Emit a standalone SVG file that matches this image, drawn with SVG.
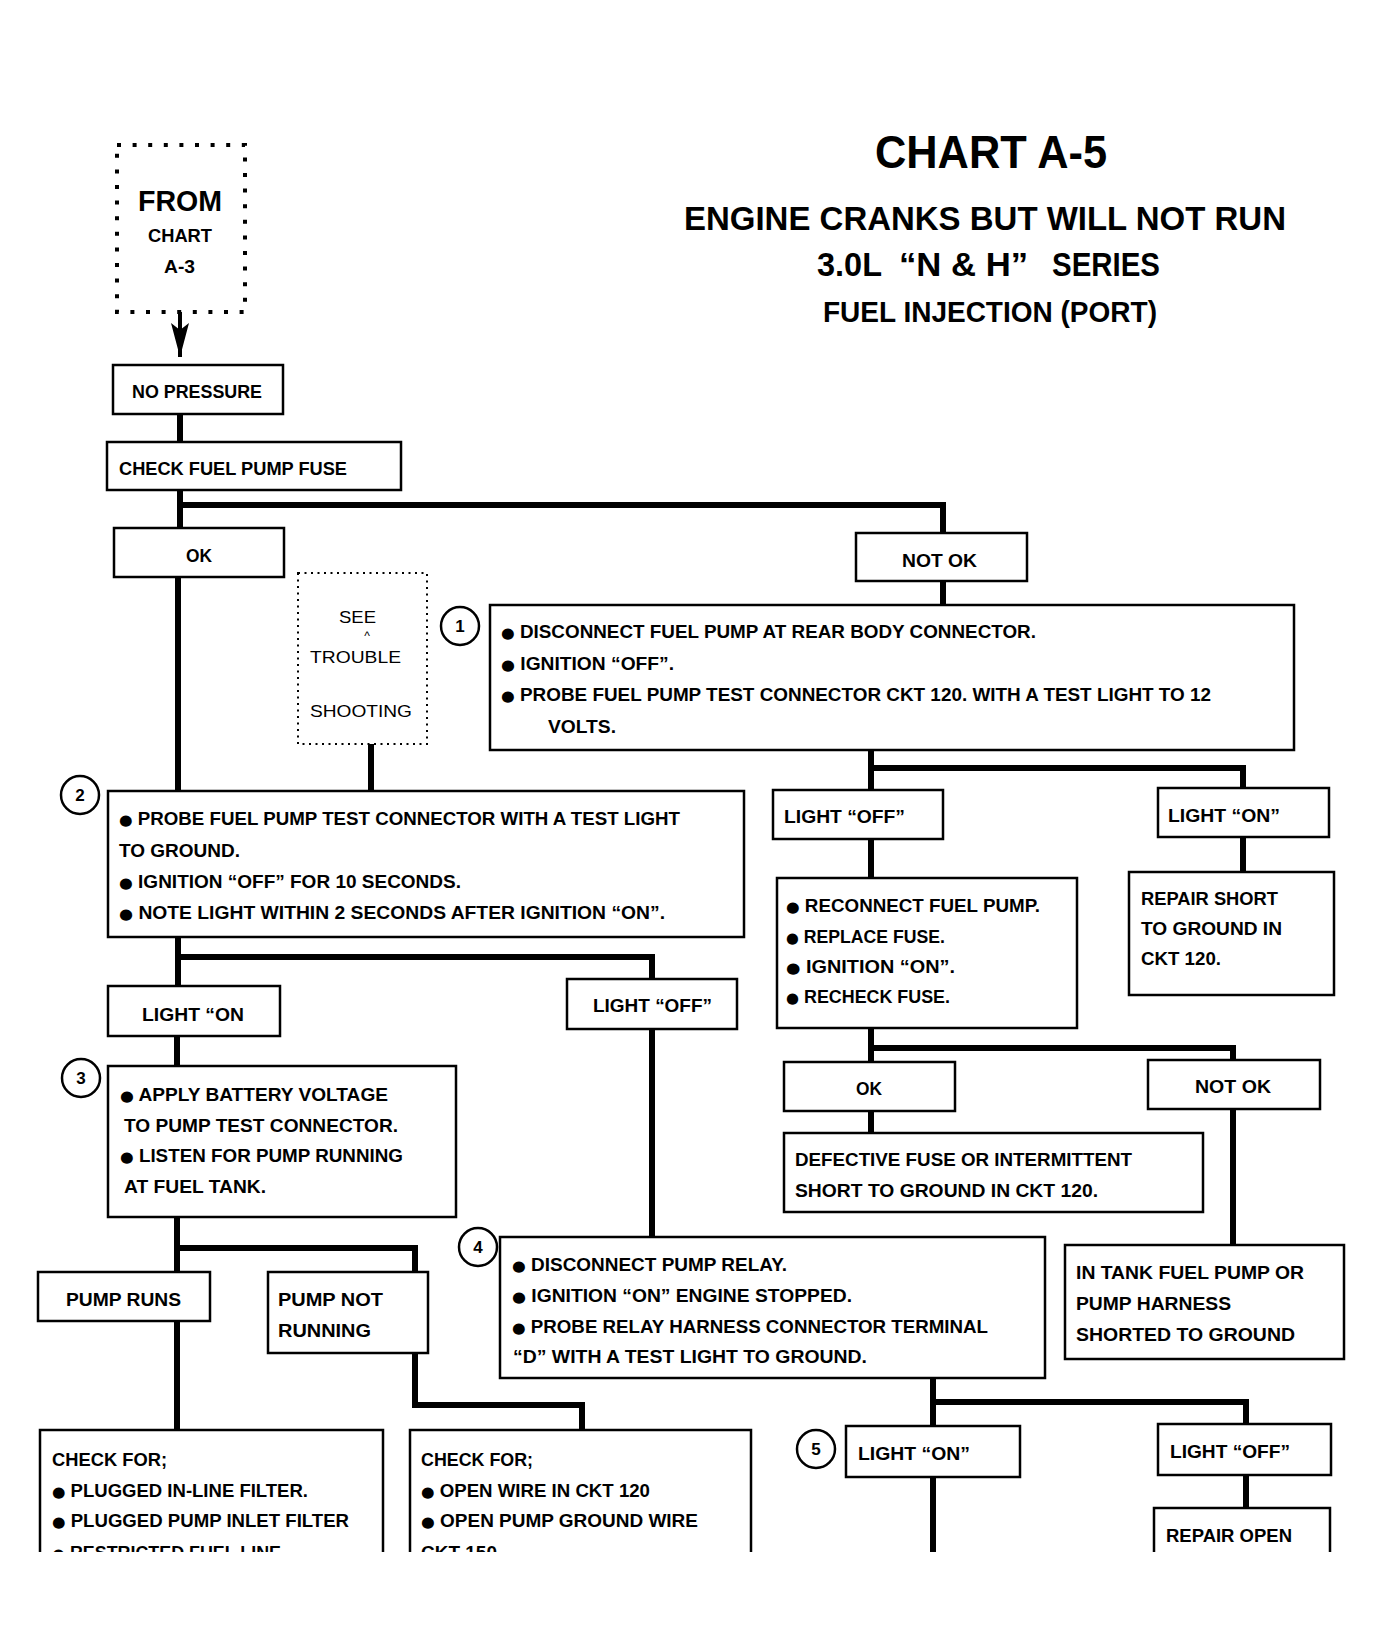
<svg xmlns="http://www.w3.org/2000/svg" width="1382" height="1627" viewBox="0 0 1382 1627">
<style>
.bx{fill:#fff;stroke:#000;stroke-width:2.5}
.dotbig{fill:none;stroke:#000;stroke-width:4;stroke-dasharray:4 11.6}
.dotsm{fill:none;stroke:#000;stroke-width:2;stroke-dasharray:2 4.5}
.cn{fill:none;stroke:#000;stroke-width:6}
.ar{fill:none;stroke:#000;stroke-width:4}
.circ{fill:#fff;stroke:#000;stroke-width:2.5}
text{font-family:"Liberation Sans",Arial,sans-serif;font-weight:bold;font-size:18px;fill:#000}
.c{text-anchor:middle}
.r{font-weight:normal;font-size:17px}
.num{font-size:17px;text-anchor:middle}
.b{font-family:"DejaVu Sans",sans-serif;font-size:15px}
.ttl{font-size:46px}
.sub{font-size:34px}
.sub2{font-size:29px}
</style>
<defs>
<marker id="ah" viewBox="0 0 34 20" refX="34" refY="10" markerWidth="34" markerHeight="20" markerUnits="userSpaceOnUse" orient="auto">
<path d="M0 1 L7 10 L0 19 L34 10 Z" fill="#000"/>
</marker>
<clipPath id="page"><rect x="0" y="0" width="1382" height="1552"/></clipPath>
</defs>
<rect x="0" y="0" width="1382" height="1627" fill="#fff"/>
<g clip-path="url(#page)">
<g id="title">
<text x="875" y="168" class="ttl" textLength="232" lengthAdjust="spacingAndGlyphs">CHART A-5</text>
<text x="684" y="230" class="sub" textLength="602" lengthAdjust="spacingAndGlyphs">ENGINE CRANKS BUT WILL NOT RUN</text>
<text x="817" y="276" class="sub" textLength="65" lengthAdjust="spacingAndGlyphs">3.0L</text>
<text x="899" y="276" class="sub" textLength="129" lengthAdjust="spacingAndGlyphs">“N &amp; H”</text>
<text x="1052" y="276" class="sub" textLength="108" lengthAdjust="spacingAndGlyphs">SERIES</text>
<text x="823" y="322" class="sub2" textLength="334" lengthAdjust="spacingAndGlyphs">FUEL INJECTION (PORT)</text>
</g>
<g id="connectors">
<path class="ar" d="M180 312 V357" marker-end="url(#ah)"/>
<path class="cn" d="M180 414 V442"/>
<path class="cn" d="M180 490 V528"/>
<path class="cn" d="M180 505 H943 V533"/>
<path class="cn" d="M943 581 V605"/>
<path class="cn" d="M178 577 V791"/>
<path class="cn" d="M371 744 V791"/>
<path class="cn" d="M178 937 V986"/>
<path class="cn" d="M178 957 H652 V979"/>
<path class="cn" d="M652 1029 V1237"/>
<path class="cn" d="M177 1036 V1066"/>
<path class="cn" d="M177 1217 V1272"/>
<path class="cn" d="M177 1248 H415 V1272"/>
<path class="cn" d="M177 1321 V1430"/>
<path class="cn" d="M415 1353 V1405 H582 V1430"/>
<path class="cn" d="M871 750 V790"/>
<path class="cn" d="M871 768 H1243 V788"/>
<path class="cn" d="M871 839 V878"/>
<path class="cn" d="M1243 837 V872"/>
<path class="cn" d="M871 1028 V1062"/>
<path class="cn" d="M871 1048 H1233 V1060"/>
<path class="cn" d="M871 1111 V1133"/>
<path class="cn" d="M1233 1109 V1245"/>
<path class="cn" d="M933 1378 V1426"/>
<path class="cn" d="M933 1402 H1246 V1424"/>
<path class="cn" d="M1246 1475 V1508"/>
<path class="cn" d="M933 1477 V1560"/>
</g>
<g id="from">
<rect class="dotbig" x="117" y="145" width="128" height="167"/>
<text x="138" y="211" style="font-size:29px" textLength="84" lengthAdjust="spacingAndGlyphs">FROM</text>
<text x="148" y="242" style="font-size:19px" textLength="64" lengthAdjust="spacingAndGlyphs">CHART</text>
<text x="164" y="273" style="font-size:19px" textLength="31" lengthAdjust="spacingAndGlyphs">A-3</text>
</g>
<g id="no-pressure">
<rect class="bx" x="113" y="365" width="170" height="49"/>
<text x="132" y="398" textLength="130" lengthAdjust="spacingAndGlyphs">NO PRESSURE</text>
</g>
<g id="check-fuse">
<rect class="bx" x="107" y="442" width="294" height="48"/>
<text x="119" y="475" textLength="228" lengthAdjust="spacingAndGlyphs">CHECK FUEL PUMP FUSE</text>
</g>
<g id="ok-1">
<rect class="bx" x="114" y="528" width="170" height="49"/>
<text x="186" y="562" textLength="26" lengthAdjust="spacingAndGlyphs">OK</text>
</g>
<g id="not-ok-1">
<rect class="bx" x="856" y="533" width="171" height="48"/>
<text x="902" y="567" textLength="75" lengthAdjust="spacingAndGlyphs">NOT OK</text>
</g>
<g id="see-troubleshooting">
<rect class="dotsm" x="298" y="573" width="129" height="171"/>
<text x="339" y="623" class="r" textLength="37" lengthAdjust="spacingAndGlyphs">SEE</text>
<text x="367" y="640" class="r c" style="font-size:12px">^</text>
<text x="310" y="663" class="r" textLength="91" lengthAdjust="spacingAndGlyphs">TROUBLE</text>
<text x="310" y="717" class="r" textLength="102" lengthAdjust="spacingAndGlyphs">SHOOTING</text>
</g>
<g id="step-1">
<circle class="circ" cx="460" cy="626" r="19"/>
<text x="460" y="632" class="num">1</text>
<rect class="bx" x="490" y="605" width="804" height="145"/>
<text x="501" y="638" textLength="535" lengthAdjust="spacingAndGlyphs"><tspan class="b">●</tspan> DISCONNECT FUEL PUMP AT REAR BODY CONNECTOR.</text>
<text x="501" y="670" textLength="173" lengthAdjust="spacingAndGlyphs"><tspan class="b">●</tspan> IGNITION “OFF”.</text>
<text x="501" y="701" textLength="710" lengthAdjust="spacingAndGlyphs"><tspan class="b">●</tspan> PROBE FUEL PUMP TEST CONNECTOR CKT 120. WITH A TEST LIGHT TO 12</text>
<text x="548" y="733" textLength="68" lengthAdjust="spacingAndGlyphs">VOLTS.</text>
</g>
<g id="step-2">
<circle class="circ" cx="80" cy="795" r="19"/>
<text x="80" y="801" class="num">2</text>
<rect class="bx" x="108" y="791" width="636" height="146"/>
<text x="119" y="825" textLength="561" lengthAdjust="spacingAndGlyphs"><tspan class="b">●</tspan> PROBE FUEL PUMP TEST CONNECTOR WITH A TEST LIGHT</text>
<text x="119" y="857" textLength="121" lengthAdjust="spacingAndGlyphs">TO GROUND.</text>
<text x="119" y="888" textLength="342" lengthAdjust="spacingAndGlyphs"><tspan class="b">●</tspan> IGNITION “OFF” FOR 10 SECONDS.</text>
<text x="119" y="919" textLength="546" lengthAdjust="spacingAndGlyphs"><tspan class="b">●</tspan> NOTE LIGHT WITHIN 2 SECONDS AFTER IGNITION “ON”.</text>
</g>
<g id="light-on-2">
<rect class="bx" x="108" y="986" width="172" height="50"/>
<text x="142" y="1021" textLength="102" lengthAdjust="spacingAndGlyphs">LIGHT “ON</text>
</g>
<g id="light-off-2">
<rect class="bx" x="567" y="979" width="170" height="50"/>
<text x="593" y="1012" textLength="119" lengthAdjust="spacingAndGlyphs">LIGHT “OFF”</text>
</g>
<g id="step-3">
<circle class="circ" cx="81" cy="1078" r="19"/>
<text x="81" y="1084" class="num">3</text>
<rect class="bx" x="108" y="1066" width="348" height="151"/>
<text x="120" y="1101" textLength="268" lengthAdjust="spacingAndGlyphs"><tspan class="b">●</tspan> APPLY BATTERY VOLTAGE</text>
<text x="124" y="1132" textLength="274" lengthAdjust="spacingAndGlyphs">TO PUMP TEST CONNECTOR.</text>
<text x="120" y="1162" textLength="283" lengthAdjust="spacingAndGlyphs"><tspan class="b">●</tspan> LISTEN FOR PUMP RUNNING</text>
<text x="124" y="1193" textLength="142" lengthAdjust="spacingAndGlyphs">AT FUEL TANK.</text>
</g>
<g id="pump-runs">
<rect class="bx" x="38" y="1272" width="172" height="49"/>
<text x="66" y="1306" textLength="115" lengthAdjust="spacingAndGlyphs">PUMP RUNS</text>
</g>
<g id="pump-not-running">
<rect class="bx" x="268" y="1272" width="160" height="81"/>
<text x="278" y="1306" textLength="105" lengthAdjust="spacingAndGlyphs">PUMP NOT</text>
<text x="278" y="1337" textLength="93" lengthAdjust="spacingAndGlyphs">RUNNING</text>
</g>
<g id="check-for-1">
<rect class="bx" x="40" y="1430" width="343" height="200"/>
<text x="52" y="1466" textLength="115" lengthAdjust="spacingAndGlyphs">CHECK FOR;</text>
<text x="52" y="1497" textLength="256" lengthAdjust="spacingAndGlyphs"><tspan class="b">●</tspan> PLUGGED IN-LINE FILTER.</text>
<text x="52" y="1527" textLength="297" lengthAdjust="spacingAndGlyphs"><tspan class="b">●</tspan> PLUGGED PUMP INLET FILTER</text>
<text x="52" y="1559" textLength="229" lengthAdjust="spacingAndGlyphs"><tspan class="b">●</tspan> RESTRICTED FUEL LINE</text>
</g>
<g id="check-for-2">
<rect class="bx" x="410" y="1430" width="341" height="200"/>
<text x="421" y="1466" textLength="112" lengthAdjust="spacingAndGlyphs">CHECK FOR;</text>
<text x="421" y="1497" textLength="229" lengthAdjust="spacingAndGlyphs"><tspan class="b">●</tspan> OPEN WIRE IN CKT 120</text>
<text x="421" y="1527" textLength="277" lengthAdjust="spacingAndGlyphs"><tspan class="b">●</tspan> OPEN PUMP GROUND WIRE</text>
<text x="421" y="1559" textLength="76" lengthAdjust="spacingAndGlyphs">CKT 150</text>
</g>
<g id="step-4">
<circle class="circ" cx="478" cy="1247" r="19"/>
<text x="478" y="1253" class="num">4</text>
<rect class="bx" x="500" y="1237" width="545" height="141"/>
<text x="512" y="1271" textLength="275" lengthAdjust="spacingAndGlyphs"><tspan class="b">●</tspan> DISCONNECT PUMP RELAY.</text>
<text x="512" y="1302" textLength="340" lengthAdjust="spacingAndGlyphs"><tspan class="b">●</tspan> IGNITION “ON” ENGINE STOPPED.</text>
<text x="512" y="1333" textLength="476" lengthAdjust="spacingAndGlyphs"><tspan class="b">●</tspan> PROBE RELAY HARNESS CONNECTOR TERMINAL</text>
<text x="513" y="1363" textLength="354" lengthAdjust="spacingAndGlyphs">“D” WITH A TEST LIGHT TO GROUND.</text>
</g>
<g id="light-off-1">
<rect class="bx" x="773" y="790" width="170" height="49"/>
<text x="784" y="823" textLength="121" lengthAdjust="spacingAndGlyphs">LIGHT “OFF”</text>
</g>
<g id="light-on-1">
<rect class="bx" x="1158" y="788" width="171" height="49"/>
<text x="1168" y="822" textLength="112" lengthAdjust="spacingAndGlyphs">LIGHT “ON”</text>
</g>
<g id="reconnect">
<rect class="bx" x="777" y="878" width="300" height="150"/>
<text x="786" y="912" textLength="254" lengthAdjust="spacingAndGlyphs"><tspan class="b">●</tspan> RECONNECT FUEL PUMP.</text>
<text x="786" y="943" textLength="159" lengthAdjust="spacingAndGlyphs"><tspan class="b">●</tspan> REPLACE FUSE.</text>
<text x="786" y="973" textLength="169" lengthAdjust="spacingAndGlyphs"><tspan class="b">●</tspan> IGNITION “ON”.</text>
<text x="786" y="1003" textLength="164" lengthAdjust="spacingAndGlyphs"><tspan class="b">●</tspan> RECHECK FUSE.</text>
</g>
<g id="repair-short">
<rect class="bx" x="1129" y="872" width="205" height="123"/>
<text x="1141" y="905" textLength="137" lengthAdjust="spacingAndGlyphs">REPAIR SHORT</text>
<text x="1141" y="935" textLength="141" lengthAdjust="spacingAndGlyphs">TO GROUND IN</text>
<text x="1141" y="965" textLength="80" lengthAdjust="spacingAndGlyphs">CKT 120.</text>
</g>
<g id="ok-2">
<rect class="bx" x="784" y="1062" width="171" height="49"/>
<text x="856" y="1095" textLength="26" lengthAdjust="spacingAndGlyphs">OK</text>
</g>
<g id="not-ok-2">
<rect class="bx" x="1148" y="1060" width="172" height="49"/>
<text x="1195" y="1093" textLength="76" lengthAdjust="spacingAndGlyphs">NOT OK</text>
</g>
<g id="defective">
<rect class="bx" x="784" y="1133" width="419" height="79"/>
<text x="795" y="1166" textLength="337" lengthAdjust="spacingAndGlyphs">DEFECTIVE FUSE OR INTERMITTENT</text>
<text x="795" y="1197" textLength="303" lengthAdjust="spacingAndGlyphs">SHORT TO GROUND IN CKT 120.</text>
</g>
<g id="in-tank">
<rect class="bx" x="1065" y="1245" width="279" height="114"/>
<text x="1076" y="1279" textLength="228" lengthAdjust="spacingAndGlyphs">IN TANK FUEL PUMP OR</text>
<text x="1076" y="1310" textLength="155" lengthAdjust="spacingAndGlyphs">PUMP HARNESS</text>
<text x="1076" y="1341" textLength="219" lengthAdjust="spacingAndGlyphs">SHORTED TO GROUND</text>
</g>
<g id="step-5">
<circle class="circ" cx="816" cy="1449" r="19"/>
<text x="816" y="1455" class="num">5</text>
<rect class="bx" x="846" y="1426" width="174" height="51"/>
<text x="858" y="1460" textLength="112" lengthAdjust="spacingAndGlyphs">LIGHT “ON”</text>
</g>
<g id="light-off-3">
<rect class="bx" x="1158" y="1424" width="173" height="51"/>
<text x="1170" y="1458" textLength="120" lengthAdjust="spacingAndGlyphs">LIGHT “OFF”</text>
</g>
<g id="repair-open">
<rect class="bx" x="1154" y="1508" width="176" height="120"/>
<text x="1166" y="1542" textLength="126" lengthAdjust="spacingAndGlyphs">REPAIR OPEN</text>
</g>
</g>
</svg>
